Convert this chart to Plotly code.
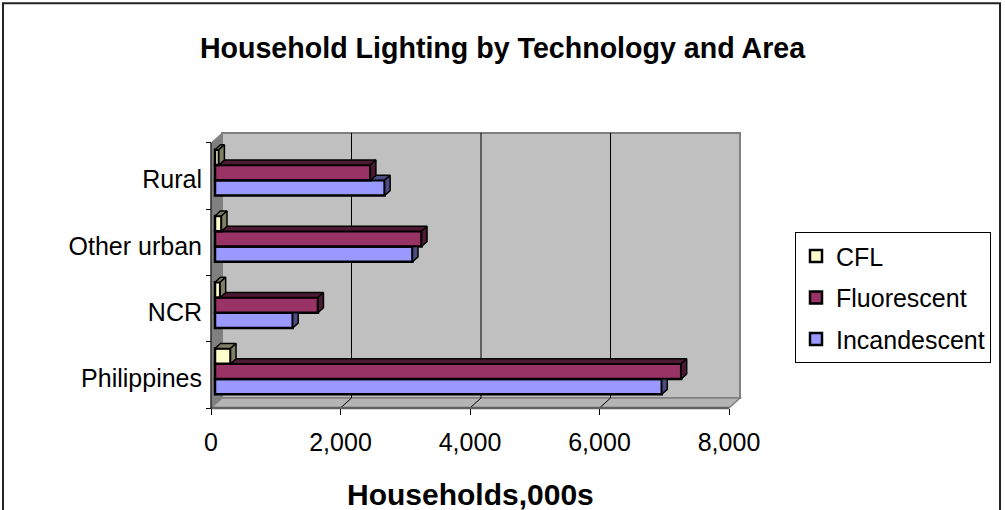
import numpy as np
import plotly.graph_objects as go

# ---- data -------------------------------------------------------------
categories = ["Philippines", "NCR", "Other urban", "Rural"]
incandescent = [6900, 1200, 3050, 2620]
fluorescent = [7200, 1590, 3190, 2400]
cfl = [240, 80, 100, 60]
x_tick_values = [0, 2000, 4000, 6000, 8000]

series_names = ["Incandescent", "Fluorescent", "CFL"]
series_values = [incandescent, fluorescent, cfl]
face_colors = ["#9999FF", "#993366", "#FFFFCC"]
shade_colors = ["#4C4C80", "#4D1A33", "#808066"]

# ---- geometry of the pseudo-3D box (pixels -> data units) --------------
W, H = 1005, 510
FRONT_LEFT = 211      # px where x = 0 sits on the front plane
FRONT_BOTTOM = 408    # px of the floor's front edge
PX_PER_X = 64.75 / 1000
PX_PER_CAT = 66.3
X_MAX = x_tick_values[-1]
PAD = 4


def ux(px):
    return px / PX_PER_X


def uy(px):
    return px / PX_PER_CAT


n = len(categories)
wall_dx, wall_dy = ux(11), uy(10)      # depth of the walls
bar_sx, bar_sy = ux(4), uy(3.5)        # bars sit part-way into the box
bar_dx, bar_dy = ux(5.5), uy(5)        # depth of each bar
bar_w = uy(15.3)

x_range = [-ux(PAD), X_MAX + wall_dx + ux(PAD)]
y_range = [-0.5 - uy(PAD), n - 0.5 + wall_dy + uy(PAD)]
plot_w = (x_range[1] - x_range[0]) * PX_PER_X
plot_h = (y_range[1] - y_range[0]) * PX_PER_CAT
m_l = FRONT_LEFT - PAD
m_b = H - FRONT_BOTTOM - PAD
m_r = W - m_l - plot_w
m_t = H - m_b - plot_h


def paper_x(px):
    return (px - m_l) / plot_w


def paper_y(py):
    return (H - m_b - py) / plot_h


FONT = "Liberation Sans, Arial, sans-serif"

fig = go.Figure()
idx = np.arange(n)

# front faces of the bars
for k, name in enumerate(series_names):
    yc = idx + bar_sy + (k - 1) * bar_w
    fig.add_trace(go.Bar(
        name=name, orientation="h", y=yc, x=series_values[k], base=bar_sx,
        width=bar_w, legendgroup=name, legendrank=len(series_names) - k,
        marker=dict(color=face_colors[k], line=dict(color="black", width=2.5)),
    ))

# top and right faces, painted bottom bar first so upper bars overlap them
for k, name in enumerate(series_names):
    yc = idx + bar_sy + (k - 1) * bar_w
    upper = series_values[k + 1] if k + 1 < len(series_names) else None
    tx, ty, rx, ry = [], [], [], []
    for i in range(n):
        v = series_values[k][i]
        yb, yt = yc[i] - bar_w / 2, yc[i] + bar_w / 2
        x1 = bar_sx + v
        u = upper[i] if upper is not None else 0
        x0 = bar_sx + u
        if x1 > x0:
            tx += [x0, x1, x1 + bar_dx, x0 + bar_dx, x0, None]
            ty += [yt, yt, yt + bar_dy, yt + bar_dy, yt, None]
        if upper is not None and u > v:
            rx += [x1, x1, x1 + bar_dx, x1 + bar_dx, x1, None]
            ry += [yb, yt, yt, yb + bar_dy, yb, None]
        else:
            rx += [x1, x1, x1 + bar_dx, x1 + bar_dx, x1, None]
            ry += [yb, yt, yt + bar_dy, yb + bar_dy, yb, None]
    for fx, fy in ((tx, ty), (rx, ry)):
        if fx:
            fig.add_trace(go.Scatter(
                x=fx, y=fy, mode="lines", fill="toself",
                fillcolor=shade_colors[k], line=dict(color="black", width=1.5),
                legendgroup=name, showlegend=False, hoverinfo="skip",
            ))

# ---- walls, floor and gridlines ------------------------------------
y_lo, y_hi = -0.5, n - 0.5
shapes = [
    dict(type="rect", layer="below", xref="x", yref="y",
         x0=wall_dx, x1=X_MAX + wall_dx, y0=y_lo + wall_dy, y1=y_hi + wall_dy,
         fillcolor="#C0C0C0", line=dict(color="#808080", width=2)),
    dict(type="path", layer="below", xref="x", yref="y",
         path=f"M 0,{y_lo} L 0,{y_hi} L {wall_dx},{y_hi + wall_dy} L {wall_dx},{y_lo + wall_dy} Z",
         fillcolor="#808080", line=dict(color="#808080", width=1)),
    dict(type="path", layer="below", xref="x", yref="y",
         path=(f"M 0,{y_lo} L {X_MAX},{y_lo} L {X_MAX + wall_dx},{y_lo + wall_dy} "
               f"L {wall_dx},{y_lo + wall_dy} Z"),
         fillcolor="#B4B4B4", line=dict(color="#808080", width=1.5)),
]
for t in x_tick_values[1:-1]:
    shapes.append(dict(type="line", layer="below", xref="x", yref="y",
                       x0=t + wall_dx, x1=t + wall_dx, y0=y_lo + wall_dy, y1=y_hi + wall_dy,
                       line=dict(color="black", width=1)))
    shapes.append(dict(type="line", layer="below", xref="x", yref="y",
                       x0=t, x1=t + wall_dx, y0=y_lo, y1=y_lo + wall_dy,
                       line=dict(color="black", width=1)))
# front edges of the box
shapes.append(dict(type="line", xref="x", yref="y", x0=0, x1=X_MAX, y0=y_lo, y1=y_lo,
                   line=dict(color="#606060", width=2.5)))
shapes.append(dict(type="line", xref="x", yref="y", x0=0, x1=0, y0=y_lo, y1=y_hi,
                   line=dict(color="black", width=1)))
# chart frame
shapes.append(dict(type="rect", xref="paper", yref="paper",
                   x0=paper_x(3), x1=paper_x(1000), y0=paper_y(H + 20), y1=paper_y(3),
                   line=dict(color="#222222", width=2), fillcolor="rgba(0,0,0,0)"))

fig.update_layout(
    width=W, height=H,
    margin=dict(l=m_l, r=m_r, t=m_t, b=m_b, autoexpand=False),
    paper_bgcolor="white", plot_bgcolor="white",
    barmode="overlay",
    font=dict(family=FONT, size=25, color="black"),
    title=dict(text="<b>Household Lighting by Technology and Area</b>",
               x=0.5, xanchor="center", xref="container",
               y=1 - 48 / H, yanchor="middle", yref="container",
               font=dict(family=FONT, size=28.6, color="black")),
    xaxis=dict(range=x_range, anchor="free", position=paper_y(FRONT_BOTTOM),
               tickvals=x_tick_values, tickformat=",d", ticks="outside",
               ticklen=6, tickcolor="black", tickwidth=1, ticklabelstandoff=6,
               showgrid=False, zeroline=False, showline=False, automargin=False,
               fixedrange=True),
    yaxis=dict(range=y_range, anchor="free", position=paper_x(FRONT_LEFT),
               tickvals=list(idx - uy(3.5)), ticktext=categories, ticks="",
               ticklabelstandoff=9,
               minor=dict(tickvals=[i - 0.5 for i in range(n + 1)], ticks="outside",
                          ticklen=5, tickcolor="black", tickwidth=1, showgrid=False),
               showgrid=False, zeroline=False, showline=False, automargin=False,
               fixedrange=True),
    legend=dict(x=paper_x(795), y=paper_y(232), xanchor="left", yanchor="top",
                traceorder="grouped", tracegroupgap=6,
                bgcolor="white", bordercolor="black", borderwidth=1,
                font=dict(family=FONT, size=25, color="black")),
    shapes=shapes,
    annotations=[dict(text="<b>Households,000s</b>", xref="paper", yref="paper",
                      x=paper_x(FRONT_LEFT + X_MAX * PX_PER_X / 2),
                      y=paper_y(495), xanchor="center", yanchor="middle",
                      showarrow=False, font=dict(family=FONT, size=30, color="black"))],
)

fig.write_html("out.html")
